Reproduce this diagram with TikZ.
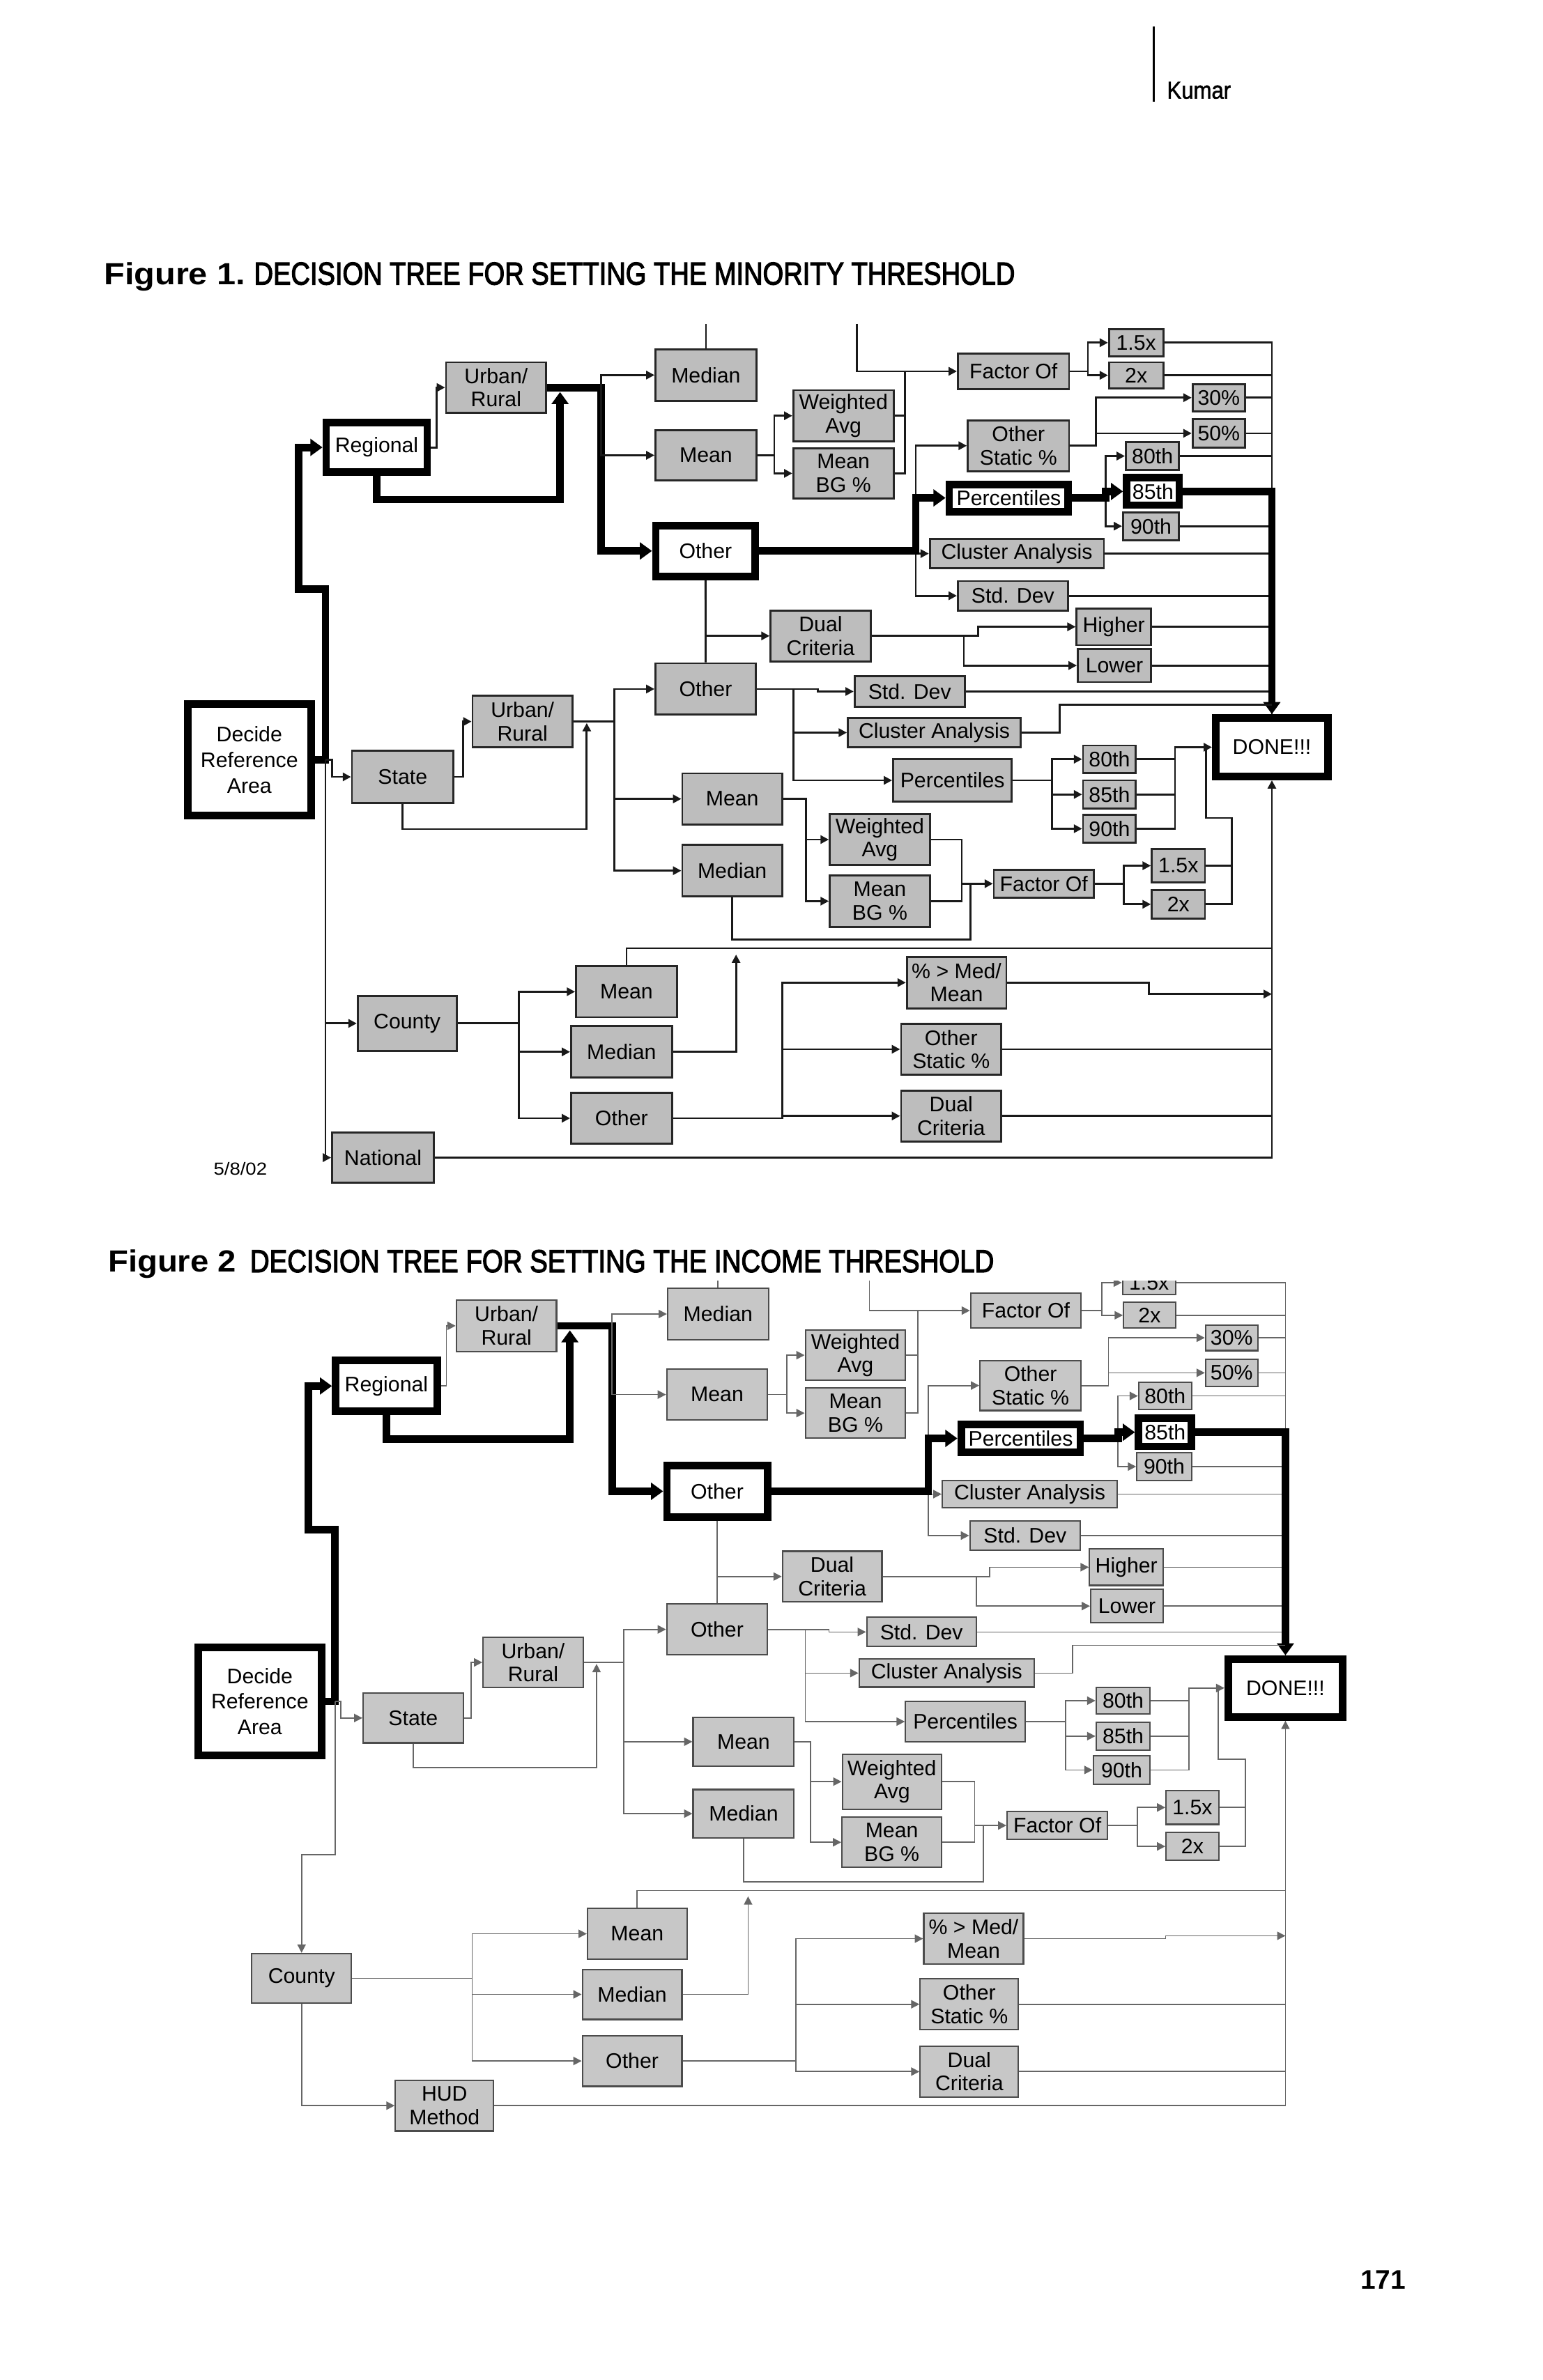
\documentclass[tikz,border=0pt]{standalone}
\usepackage{graphicx}
\usepackage{fontspec}
\setmainfont{Liberation Sans}
\newfontfamily\ttlfont{Liberation Sans}[FakeBold=3]
\newfontfamily\kumfont{Liberation Sans}[FakeBold=1.5]
\usetikzlibrary{arrows.meta,calc}
\definecolor{boxg}{gray}{0.74}
\definecolor{boxg2}{gray}{0.78}
\newcommand\bxf{\fontsize{14}{15.5}\selectfont}
\newcommand\decf{\fontsize{14}{17}\selectfont}
\newcommand\mybox[7][gb]{%
 \pgfmathsetmacro\bxw{#5-#3}\pgfmathsetmacro\bxh{#6-#4}%
 \pgfmathsetmacro\bxcx{(#3+#5)/2}\pgfmathsetmacro\bxcy{(#4+#6)/2}%
 \node[#1,minimum width=\bxw pt,minimum height=\bxh pt] (#2) at (\bxcx,\bxcy) {#7};}
\tikzset{
 gb/.style={draw=black!85, fill=boxg, line width=1.3pt, inner sep=0pt, align=center, font=\bxf, anchor=center},
 g2/.style={gb, draw=black!70, fill=boxg2, line width=1pt},
 tb/.style={draw=black, fill=white, line width=5pt, inner sep=0pt, align=center, font=\bxf, anchor=center},
 ln/.style={line width=1.3pt, draw=black!90},
 ar/.style={ln, -{Triangle[length=5.5pt,width=5.5pt]}},
 ln2/.style={line width=0.8pt, draw=black!60},
 ar2/.style={ln2, -{Triangle[length=5.5pt,width=5.5pt]}},
 thk/.style={line width=5pt, draw=black},
 thkar/.style={thk, -{Triangle[length=8pt,width=11pt]}},
 txt/.style={anchor=base west, inner sep=0pt}
}
\begin{document}
\begin{tikzpicture}[x=1pt,y=-1pt]
\fill[white] (0,0) rectangle (1024,1580);
\useasboundingbox (0,0) rectangle (1024,1580);

% ---------- page header / titles ----------
\draw[line width=1.5pt] (765.8,17.7) -- (765.8,67.5);
\node[txt] (kum) at (774.3,65.5) {\resizebox{42.4pt}{11.2pt}{\kumfont Kumar}};
\node[txt] (f1a) at (68.9,188.9) {\resizebox{93.7pt}{14.7pt}{\bfseries Figure 1.}};
\node[txt] (f1b) at (168.4,188.9) {\resizebox{505pt}{14.7pt}{\ttlfont DECISION TREE FOR SETTING THE MINORITY THRESHOLD}};
\node[txt] (f2a) at (71.6,844.5) {\resizebox{85pt}{14.7pt}{\bfseries Figure 2}};
\node[txt] (f2b) at (165.8,844.5) {\resizebox{493.7pt}{14.7pt}{\ttlfont DECISION TREE FOR SETTING THE INCOME THRESHOLD}};
\node[txt] (pg) at (902.7,1519.4) {\resizebox{30pt}{12.3pt}{\bfseries 171}};
\node[txt] (dt) at (141.6,780.1) {\resizebox{35.4pt}{8.4pt}{5/8/02}};

% ================= FIGURE 1 =================
\mybox[tb,font=\decf]{dec1}{124.5}{467.5}{206.5}{541.5}{Decide\\Reference\\Area}
\mybox[tb]{reg1}{216.5}{280.5}{283.5}{313.5}{Regional}
\mybox{ur1}{296}{240.5}{362.5}{274}{Urban/\\Rural}
\mybox{med1}{435}{232}{502}{266}{Median}
\mybox{mean1}{435}{285.5}{502}{319}{Mean}
\mybox{wa1}{526.5}{259}{593}{293}{Weighted\\Avg}
\mybox{mbg1}{526.5}{297.5}{593}{331}{Mean\\BG \%}
\mybox[tb]{oth1}{435.2}{348.9}{501.3}{382.6}{Other}
\mybox{fo1}{635.7}{234.8}{709.5}{258.2}{Factor Of}
\mybox{xa1}{736}{218.5}{772}{236.5}{1.5x}
\mybox{xb1}{736}{240.5}{772}{257.8}{2x}
\mybox{pa1}{791.5}{255}{826.3}{273}{30\%}
\mybox{pb1}{791.5}{278.3}{826.3}{297}{50\%}
\mybox{os1}{642.3}{279}{709.5}{312.8}{Other\\Static \%}
\mybox[tb]{pc1}{630}{321.5}{709}{339.6}{Percentiles}
\mybox{qa1}{747.2}{293.6}{782.5}{311.9}{80th}
\mybox[tb]{qb1}{747.8}{317.2}{782.6}{335.3}{85th}
\mybox{qc1}{745.3}{340.1}{782.5}{358.5}{90th}
\mybox{ca1}{617.1}{357.9}{732.6}{377.1}{Cluster Analysis}
\mybox{sd1}{635.7}{385.7}{708.7}{405.3}{Std. Dev}
\mybox{dc1}{511.4}{405.3}{577.8}{439}{Dual\\Criteria}
\mybox{hi1}{714.5}{403.9}{763.9}{428.3}{Higher}
\mybox{lo1}{715.3}{430.8}{763.9}{452.8}{Lower}
\mybox{oth2}{435}{440.3}{501.6}{474.5}{Other}
\mybox{sd2}{567.2}{449}{640.2}{469.1}{Std. Dev}
\mybox{ca2}{562.7}{476.8}{677.4}{495.9}{Cluster Analysis}
\mybox[tb]{done1}{806.8}{476.6}{881.4}{515.5}{DONE!!!}
\mybox{st1}{233.6}{498.5}{300.9}{533}{State}
\mybox{ur2}{313.6}{462}{379.9}{496}{Urban/\\Rural}
\mybox{mean2}{452.8}{513.4}{519.1}{547.3}{Mean}
\mybox{med2}{452.8}{560.9}{519.1}{595.1}{Median}
\mybox{pc2}{592.7}{503.9}{671.5}{532.2}{Percentiles}
\mybox{qa2}{718.8}{494.9}{753.8}{513.1}{80th}
\mybox{qb2}{718.8}{518}{753.8}{536.8}{85th}
\mybox{qc2}{718.8}{540.9}{753.8}{559.4}{90th}
\mybox{wa2}{550.7}{540.4}{617.1}{574.3}{Weighted\\Avg}
\mybox{mbg2}{550.7}{581.3}{617.1}{615.2}{Mean\\BG \%}
\mybox{fo2}{659.6}{577.4}{725.9}{595.9}{Factor Of}
\mybox{xa2}{764.4}{563.5}{799.7}{585.9}{1.5x}
\mybox{xb2}{764.4}{590.8}{799.7}{609.8}{2x}
\mybox{cty1}{237.4}{661.1}{303}{697.7}{County}
\mybox{mean3}{382.3}{641.4}{449.3}{675.3}{Mean}
\mybox{med3}{379}{681.2}{446}{715.4}{Median}
\mybox{oth3}{379}{725.4}{446}{759.3}{Other}
\mybox{pm1}{601.8}{635.2}{667.9}{669.4}{\% > Med/\\Mean}
\mybox{os2}{598}{679.6}{664.5}{713.5}{Other\\Static \%}
\mybox{dc2}{598}{723.9}{664.5}{757.8}{Dual\\Criteria}
\mybox{nat}{220.4}{752}{287.9}{785}{National}

% thick path decide -> regional
\coordinate (j0) at (216,504.5);
\coordinate (t1) at (216,391);
\coordinate (t2) at (198.2,391);
\draw[thkar] (dec1.east) -- (j0) -- (t1) -- (t2) |- (reg1.west);
\coordinate (js0) at (220.3,0);
\draw[ar] (j0) -- (j0 -| js0) |- (st1.west);
\draw[ar] (j0) |- (cty1.west);
\draw[ar] (j0) |- (nat.west);
\coordinate (jr) at (289.7,0);
\draw[ar] (reg1.east) -- (reg1.east -| jr) |- (ur1.west);
\coordinate (jl) at (371.7,331.6);
\draw[thkar] (reg1.south) |- (jl) -- ($(jl |- ur1.east)+(0,3)$);
\coordinate (jt) at (398.8,0);
\draw[thkar] (ur1.east) -- (ur1.east -| jt) |- (oth1.west);
\draw[ar] (jt |- ur1.east) |- (med1.west);
\draw[ar] (jt |- ur1.east) |- (mean1.west);
\coordinate (topA) at (0,215);
\draw[ln] (med1.north) -- (med1.north |- topA);
\coordinate (s1) at (568.8,215);
\draw[ar] (s1) |- (fo1.west);
\coordinate (jw) at (600.6,0);
\draw[ln] (wa1.east) -| (jw |- fo1.west);
\draw[ln] (mbg1.east) -| (jw |- fo1.west);
\coordinate (jm) at (513.9,0);
\draw[ar] (mean1.east) -- (mean1.east -| jm) |- (wa1.west);
\draw[ar] (mean1.east -| jm) |- (mbg1.west);
\coordinate (jf) at (722,0);
\draw[ar] (fo1.east) -- (fo1.east -| jf) |- (xa1.west);
\draw[ar] (fo1.east -| jf) |- (xb1.west);
% right collector
\draw[ln] (xa1.east) -| (done1.north);
\foreach \n in {xb1,pa1,pb1,qa1,qc1,ca1,sd1,hi1,lo1,sd2}
  \draw[ln] (\n.east) -- (\n.east -| done1.north);
\coordinate (jo) at (727.3,0);
\draw[ar] (os1.east) -- (os1.east -| jo) |- (pa1.west);
\draw[ar] (os1.east -| jo) |- (pb1.west);
\coordinate (jb) at (607.8,0);
\draw[ar] (oth1.east -| jb) |- (ca1.west);
\draw[ar] (oth1.east -| jb) |- (sd1.west);
\draw[ar] (oth1.east -| jb) |- (os1.west);
\draw[thkar] (oth1.east) -- (oth1.east -| jb) |- (pc1.west);
\coordinate (jp) at (733.9,0);
\draw[ar] (pc1.east -| jp) |- (qa1.west);
\draw[ar] (pc1.east -| jp) |- (qc1.west);
\draw[thkar] (pc1.east) -- (pc1.east -| jp) |- (qb1.west);
\draw[thkar] (qb1.east) -| (done1.north);
\coordinate (jd1) at (639.7,0);
\coordinate (jd2) at (649,0);
\draw[ar] (dc1.east) -- (dc1.east -| jd2) |- (hi1.west);
\draw[ar] (dc1.east -| jd1) |- (lo1.west);
\draw[ln] (oth1.south) -- (oth2.north);
\draw[ar] (oth1.south |- dc1.west) -- (dc1.west);
\coordinate (jsd) at (542.7,0);
\draw[ar] (oth2.east) -- (oth2.east -| jsd) |- (sd2.west);
\coordinate (jo2) at (526.4,0);
\draw[ar] (oth2.east -| jo2) |- (ca2.west);
\draw[ar] (oth2.east -| jo2) |- (pc2.west);
\coordinate (jc2) at (703.4,467.8);
\draw[ln] (ca2.east) -| (jc2) -- (jc2 -| done1.north);
\coordinate (jp2) at (698.1,0);
\draw[ar] (pc2.east) -- (pc2.east -| jp2) |- (qa2.west);
\draw[ar] (pc2.east -| jp2) |- (qb2.west);
\draw[ar] (pc2.east -| jp2) |- (qc2.west);
\coordinate (jq) at (779.8,0);
\draw[ar] (qc2.east) -| (jq |- done1.west) -- (done1.west);
\draw[ln] (qa2.east) -- (qa2.east -| jq);
\draw[ln] (qb2.east) -- (qb2.east -| jq);
\coordinate (jx) at (817.5,543);
\coordinate (jx2) at (800.3,543);
\draw[ln] (xb2.east) -| (jx) -- (jx2) -- (jx2 |- done1.west);
\draw[ln] (xa2.east) -- (xa2.east -| jx);
\coordinate (js) at (307.4,0);
\draw[ar] (st1.east) -- (st1.east -| js) |- (ur2.west);
\coordinate (jsl) at (389.4,550.4);
\draw[ar] (st1.south) |- (jsl) -- ($(jsl |- ur2.east)+(0,1)$);
\coordinate (jv) at (407.7,0);
\draw[ln] (ur2.east) -- (ur2.east -| jv);
\draw[ar] (ur2.east -| jv) |- (oth2.west);
\draw[ar] (ur2.east -| jv) |- (mean2.west);
\draw[ar] (ur2.east -| jv) |- (med2.west);
\coordinate (jm2) at (534.8,0);
\draw[ar] (mean2.east) -- (mean2.east -| jm2) |- (wa2.west);
\draw[ar] (mean2.east -| jm2) |- (mbg2.west);
\coordinate (jw2) at (638.3,0);
\draw[ln] (wa2.east) -| (jw2 |- fo2.west);
\draw[ln] (mbg2.east) -| (jw2 |- fo2.west);
\draw[ar] (jw2 |- fo2.west) -- (fo2.west);
\coordinate (jml) at (644.2,623.6);
\draw[ln] (med2.south) |- (jml) -- (jml |- fo2.west);
\coordinate (jf2) at (745.9,0);
\draw[ar] (fo2.east) -- (fo2.east -| jf2) |- (xa2.west);
\draw[ar] (fo2.east -| jf2) |- (xb2.west);
% county branch
\coordinate (jc) at (344.5,0);
\draw[ar] (cty1.east) -- (cty1.east -| jc) |- (mean3.west);
\draw[ar] (cty1.east -| jc) |- (med3.west);
\draw[ar] (cty1.east -| jc) |- (oth3.west);
\coordinate (jt3) at (0,629.5);
\draw[ln] (mean3.north) |- (jt3 -| done1.south);
\coordinate (ju) at (488.5,633.7);
\draw[ar] (med3.east) -| (ju);
\coordinate (jo3) at (519.2,0);
\draw[ar] (oth3.east) -- (oth3.east -| jo3) |- (pm1.west);
\draw[ar] (oth3.east -| jo3) |- (os2.west);
\draw[ar] (oth3.east -| jo3) |- (dc2.west);
\coordinate (jpm) at (762.3,659.9);
\draw[ar] (pm1.east) -| (jpm) -- (jpm -| done1.south);
\draw[ln] (os2.east) -- (os2.east -| done1.south);
\draw[ln] (dc2.east) -- (dc2.east -| done1.south);
\draw[ar] (nat.east) -| (done1.south);

% ================= FIGURE 2 =================
\begin{scope}
\clip (0,850.5) rectangle (1024,1580);
\mybox[tb,font=\decf]{dec2}{131.5}{1093.5}{213.4}{1165.5}{Decide\\Reference\\Area}
\mybox[tb]{reg2}{222.8}{903.2}{290.1}{937}{Regional}
\mybox[g2]{ur3}{302.9}{863.1}{369.3}{897.2}{Urban/\\Rural}
\mybox[g2]{med4}{443.1}{855.3}{510}{889.3}{Median}
\mybox[g2]{mean4}{442.5}{909}{509.4}{942.6}{Mean}
\mybox[g2]{wa3}{534.5}{883.1}{601}{916.2}{Weighted\\Avg}
\mybox[g2]{mbg3}{534.5}{921.4}{601}{954.8}{Mean\\BG \%}
\mybox[tb]{oth4}{442.6}{973}{509.3}{1007}{Other}
\mybox[g2]{fo3}{644.2}{858.4}{717.4}{881.7}{Factor Of}
\mybox[g2]{xa3}{745}{843.6}{780.1}{859.4}{1.5x}
\mybox[g2]{xb3}{745.7}{864.6}{780.1}{881.7}{2x}
\mybox[g2]{pa2}{800.1}{879.6}{834.7}{896.6}{30\%}
\mybox[g2]{pb2}{800.1}{902.4}{834.7}{920.3}{50\%}
\mybox[g2]{os3}{650.4}{903.2}{717.4}{936.4}{Other\\Static \%}
\mybox[tb]{pc3}{637.9}{945.5}{716.9}{964.3}{Percentiles}
\mybox[g2]{qa3}{755.7}{917.6}{790.8}{935.8}{80th}
\mybox[tb]{qb3}{755.7}{941.4}{790.8}{960.2}{85th}
\mybox[g2]{qc3}{754.5}{964.3}{790.8}{982.9}{90th}
\mybox[g2]{ca3}{625.4}{982.9}{741.4}{1000.9}{Cluster Analysis}
\mybox[g2]{sd3}{643.7}{1009.7}{716.9}{1029.1}{Std. Dev}
\mybox[g2]{dc3}{519.3}{1029.8}{585.3}{1063.4}{Dual\\Criteria}
\mybox[g2]{hi2}{723.1}{1028.3}{772}{1052.5}{Higher}
\mybox[g2]{lo2}{723.9}{1055.2}{772}{1077.2}{Lower}
\mybox[g2]{oth5}{442.5}{1064.9}{509.4}{1098.5}{Other}
\mybox[g2]{sd4}{575.2}{1073.7}{647.9}{1093.1}{Std. Dev}
\mybox[g2]{ca4}{570.2}{1101.4}{686.3}{1120}{Cluster Analysis}
\mybox[tb]{done2}{815.1}{1101.4}{891.1}{1139.8}{DONE!!!}
\mybox[g2]{st2}{241}{1124}{307.4}{1157}{State}
\mybox[g2]{ur4}{320.6}{1087}{387}{1120.2}{Urban/\\Rural}
\mybox[g2]{mean5}{460}{1140}{527}{1172.5}{Mean}
\mybox[g2]{med5}{460}{1188}{527}{1220}{Median}
\mybox[g2]{pc4}{601}{1129.4}{680.3}{1156.4}{Percentiles}
\mybox[g2]{qa4}{727.5}{1120.1}{763.3}{1137.9}{80th}
\mybox[g2]{qb4}{727.5}{1143.3}{763.3}{1161.8}{85th}
\mybox[g2]{qc4}{725.6}{1165.6}{763.3}{1184.4}{90th}
\mybox[g2]{wa4}{559}{1164.5}{624.9}{1201}{Weighted\\Avg}
\mybox[g2]{mbg4}{558.8}{1206.4}{624.9}{1239.6}{Mean\\BG \%}
\mybox[g2]{fo4}{668.4}{1202.6}{735}{1221.1}{Factor Of}
\mybox[g2]{xa4}{773.9}{1188.7}{808.8}{1211.1}{1.5x}
\mybox[g2]{xb4}{773.9}{1216.5}{808.8}{1235}{2x}
\mybox[g2]{cty2}{167.1}{1296.9}{233.2}{1329.8}{County}
\mybox[g2]{mean6}{389.9}{1267}{455.9}{1300.5}{Mean}
\mybox[g2]{med6}{386.5}{1307.4}{452.6}{1340.6}{Median}
\mybox[g2]{oth6}{386.5}{1351.4}{452.6}{1385}{Other}
\mybox[g2]{pm2}{613.1}{1270}{679.2}{1304}{\% > Med/\\Mean}
\mybox[g2]{os4}{610.7}{1313.6}{675.9}{1347.5}{Other\\Static \%}
\mybox[g2]{dc4}{610.7}{1358.3}{675.9}{1392.2}{Dual\\Criteria}
\mybox[g2]{hud}{262.4}{1381.1}{327.6}{1414.6}{HUD\\Method}

\coordinate (u0) at (222.4,1129.5);
\coordinate (u1) at (222.4,1015.3);
\coordinate (u2) at (204.7,1015.3);
\draw[thkar] (dec2.east) -- (u0) -- (u1) -- (u2) |- (reg2.west);
\coordinate (us) at (226.2,0);
\draw[ar2] (u0) -- (u0 -| us) |- (st2.west);
\coordinate (u3) at (222.4,1231.1);
\draw[ar2] (u0) -- (u3) -| (cty2.north);
\draw[ar2] (cty2.south) |- (hud.west);
\coordinate (jr2) at (296.2,0);
\draw[ar2] (reg2.east) -- (reg2.east -| jr2) |- (ur3.west);
\coordinate (jl2) at (378.2,955.4);
\draw[thkar] (reg2.south) |- (jl2) -- ($(jl2 |- ur3.east)+(0,3)$);
\coordinate (jt2) at (406.2,0);
\draw[thkar] (ur3.east) -- (ur3.east -| jt2) |- (oth4.west);
\draw[ar2] (jt2 |- ur3.east) |- (med4.west);
\draw[ar2] (jt2 |- ur3.east) |- (mean4.west);
\draw[ln2] (med4.north) -- ++(0,-8);
\coordinate (s3) at (577,845);
\draw[ar2] (s3) |- (fo3.west);
\coordinate (jm4) at (522.1,0);
\draw[ar2] (mean4.east) -- (mean4.east -| jm4) |- (wa3.west);
\draw[ar2] (mean4.east -| jm4) |- (mbg3.west);
\coordinate (jw3) at (609.1,0);
\draw[ln2] (wa3.east) -| (jw3 |- fo3.west);
\draw[ln2] (mbg3.east) -| (jw3 |- fo3.west);
\coordinate (jf3) at (731.4,0);
\draw[ar2] (fo3.east) -- (fo3.east -| jf3) |- (xb3.west);
\draw[ar2] (fo3.east -| jf3) |- (xa3.west);
\draw[ln2] (xa3.east) -| (done2.north);
\foreach \n in {xb3,pa2,pb2,qa3,qc3,ca3,sd3,hi2,lo2,sd4}
  \draw[ln2] (\n.east) -- (\n.east -| done2.north);
\coordinate (jo4) at (735.7,0);
\draw[ar2] (os3.east) -- (os3.east -| jo4) |- (pa2.west);
\draw[ar2] (os3.east -| jo4) |- (pb2.west);
\coordinate (jb2) at (616.1,0);
\draw[ar2] (oth4.east -| jb2) |- (ca3.west);
\draw[ar2] (oth4.east -| jb2) |- (sd3.west);
\draw[ar2] (oth4.east -| jb2) |- (os3.west);
\draw[thkar] (oth4.east) -- (oth4.east -| jb2) |- (pc3.west);
\coordinate (jp3) at (742,0);
\draw[ar2] (pc3.east -| jp3) |- (qa3.west);
\draw[ar2] (pc3.east -| jp3) |- (qc3.west);
\draw[thkar] (pc3.east) -- (pc3.east -| jp3) |- (qb3.west);
\draw[thkar] (qb3.east) -| (done2.north);
\coordinate (jd3) at (647.9,0);
\coordinate (jd4) at (656.7,0);
\draw[ar2] (dc3.east) -- (dc3.east -| jd4) |- (hi2.west);
\draw[ar2] (dc3.east -| jd3) |- (lo2.west);
\draw[ln2] (oth4.south) -- (oth5.north);
\draw[ar2] (oth4.south |- dc3.west) -- (dc3.west);
\coordinate (jsd2) at (550.2,0);
\draw[ar2] (oth5.east) -- (oth5.east -| jsd2) |- (sd4.west);
\coordinate (jo5) at (534.4,0);
\draw[ar2] (oth5.east -| jo5) |- (ca4.west);
\draw[ar2] (oth5.east -| jo5) |- (pc4.west);
\coordinate (jc4) at (711.9,1092.3);
\draw[ln2] (ca4.east) -| (jc4) -- (jc4 -| done2.north);
\coordinate (jp4) at (707.2,0);
\draw[ar2] (pc4.east) -- (pc4.east -| jp4) |- (qa4.west);
\draw[ar2] (pc4.east -| jp4) |- (qb4.west);
\draw[ar2] (pc4.east -| jp4) |- (qc4.west);
\coordinate (jq2) at (789.2,0);
\draw[ar2] (qc4.east) -| (jq2 |- done2.west) -- (done2.west);
\draw[ln2] (qa4.east) -- (qa4.east -| jq2);
\draw[ln2] (qb4.east) -- (qb4.east -| jq2);
\coordinate (jx3) at (826.6,1167.9);
\coordinate (jx4) at (808.4,1167.9);
\draw[ln2] (xb4.east) -| (jx3) -- (jx4) -- (jx4 |- done2.west);
\draw[ln2] (xa4.east) -- (xa4.east -| jx3);
\coordinate (js2) at (312.7,0);
\draw[ar2] (st2.east) -- (st2.east -| js2) |- (ur4.west);
\coordinate (jsl2) at (395.9,1173.5);
\draw[ar2] (st2.south) |- (jsl2) -- ($(jsl2 |- ur4.east)+(0,1)$);
\coordinate (jv2) at (414.1,0);
\draw[ln2] (ur4.east) -- (ur4.east -| jv2);
\draw[ar2] (ur4.east -| jv2) |- (oth5.west);
\draw[ar2] (ur4.east -| jv2) |- (mean5.west);
\draw[ar2] (ur4.east -| jv2) |- (med5.west);
\coordinate (jm5) at (538,0);
\draw[ar2] (mean5.east) -- (mean5.east -| jm5) |- (wa4.west);
\draw[ar2] (mean5.east -| jm5) |- (mbg4.west);
\coordinate (jw4) at (646.9,0);
\draw[ln2] (wa4.east) -| (jw4 |- fo4.west);
\draw[ln2] (mbg4.east) -| (jw4 |- fo4.west);
\draw[ar2] (jw4 |- fo4.west) -- (fo4.west);
\coordinate (jml2) at (652.7,1249.2);
\draw[ln2] (med5.south) |- (jml2) -- (jml2 |- fo4.west);
\coordinate (jf4) at (754.7,0);
\draw[ar2] (fo4.east) -- (fo4.east -| jf4) |- (xa4.west);
\draw[ar2] (fo4.east -| jf4) |- (xb4.west);
\coordinate (jc5) at (313.4,0);
\draw[ar2] (cty2.east) -- (cty2.east -| jc5) |- (mean6.west);
\draw[ar2] (cty2.east -| jc5) |- (med6.west);
\draw[ar2] (cty2.east -| jc5) |- (oth6.west);
\coordinate (jt6) at (0,1255);
\draw[ln2] (mean6.north) |- (jt6 -| done2.south);
\coordinate (ju2) at (496.5,1258.9);
\draw[ar2] (med6.east) -| (ju2);
\coordinate (jo6) at (528.1,0);
\draw[ar2] (oth6.east) -- (oth6.east -| jo6) |- (pm2.west);
\draw[ar2] (oth6.east -| jo6) |- (os4.west);
\draw[ar2] (oth6.east -| jo6) |- (dc4.west);
\coordinate (jpm2) at (773.6,1285.1);
\draw[ar2] (pm2.east) -| (jpm2) -- (jpm2 -| done2.south);
\draw[ln2] (os4.east) -- (os4.east -| done2.south);
\draw[ln2] (dc4.east) -- (dc4.east -| done2.south);
\draw[ar2] (hud.east) -| (done2.south);
\end{scope}
\end{tikzpicture}
\end{document}
